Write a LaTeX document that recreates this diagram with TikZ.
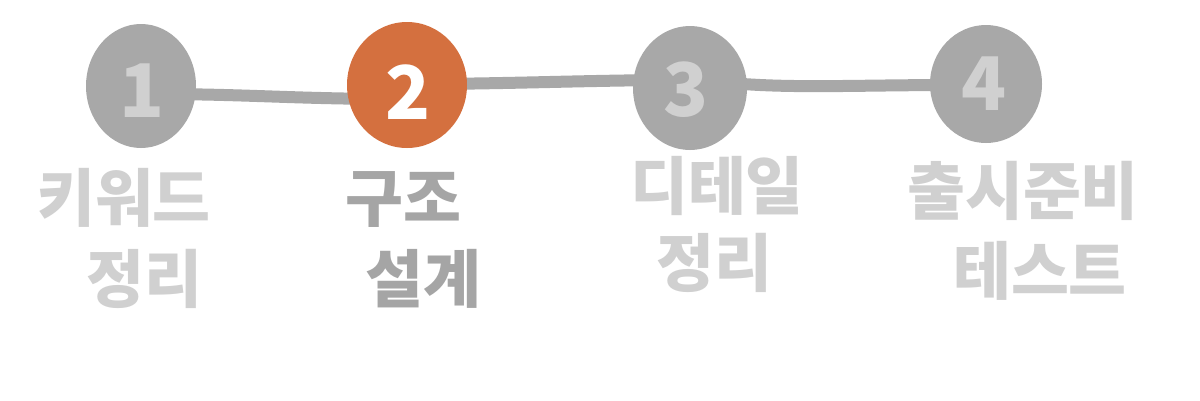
\documentclass[tikz,border=0pt]{standalone}
\usepackage{fontspec}
\newfontfamily\kr{Noto Sans CJK KR}
\usetikzlibrary{shapes.geometric,calc}
\pgfdeclarelayer{background}
\pgfsetlayers{background,main}
\definecolor{dotgray}{HTML}{A8A8A8}
\definecolor{numgray}{HTML}{D0D0D0}
\definecolor{labgray}{HTML}{D0D0D0}
\definecolor{activegray}{HTML}{A5A5A5}
\definecolor{activeorange}{HTML}{D4703F}
\tikzset{
  dot/.style={ellipse, fill=dotgray, draw=none, inner sep=0pt},
  activedot/.style={dot, fill=activeorange},
  num/.style={inner sep=0pt, text=numgray, font=\kr\bfseries\fontsize{74}{74}\selectfont},
  activenum/.style={num, text=white},
  lab/.style={inner sep=0pt, text=labgray, font=\kr\bfseries\fontsize{63}{63}\selectfont},
  activelab/.style={lab, text=activegray},
  conn/.style={draw=dotgray, line width=12pt, line cap=round}
}
\begin{document}
\begin{tikzpicture}[x=1pt,y=-1pt]
\useasboundingbox (0,0) rectangle (1200,400);
% circles
\node[dot, minimum width=110pt, minimum height=124pt] (c1) at (141,86) {};
\node[activedot, minimum width=120pt, minimum height=126pt] (c2) at (407,85) {};
\node[dot, minimum width=114pt, minimum height=124pt] (c3) at (690,88) {};
\node[dot, minimum width=112pt, minimum height=118pt] (c4) at (986,84) {};
% numbers
\node[num] (n1) at (142,91) {1};
\node[activenum] (n2) at (408,92) {2};
\node[num] (n3) at (686,90) {3};
\node[num] (n4) at (984,84) {4};
% connectors
\begin{pgfonlayer}{background}
\fill[white] (0,0) rectangle (1200,400);
\draw[conn] ($(c1.center)+(30,8)$) .. controls ($(c1.east)+(60,9)$) and ($(c2.west)+(-60,13)$) .. ($(c2.center)+(-30,14)$);
\draw[conn] ($(c2.center)+(30,-1)$) .. controls ($(c2.east)+(60,-2)$) and ($(c3.west)+(-60,-7)$) .. ($(c3.center)+(-30,-8)$);
\draw[conn] ($(c3.center)+(30,-6)$) .. controls ($(c3.east)+(40,1)$) and ($(c4.west)+(-80,1)$) .. ($(c4.center)+(-30,1)$);
\end{pgfonlayer}
% labels
\node[lab] (l1a) at (124,198) {키워드};
\node[lab] (l1b) at (144,279) {정리};
\node[activelab] (l2a) at (403,200) {구조};
\node[activelab] (l2b) at (423,279) {설계};
\node[lab] (l3a) at (717,186) {디테일};
\node[lab] (l3b) at (714,263) {정리};
\node[lab] (l4a) at (1023,191) {출시준비};
\node[lab] (l4b) at (1040,271) {테스트};
\end{tikzpicture}
\end{document}
